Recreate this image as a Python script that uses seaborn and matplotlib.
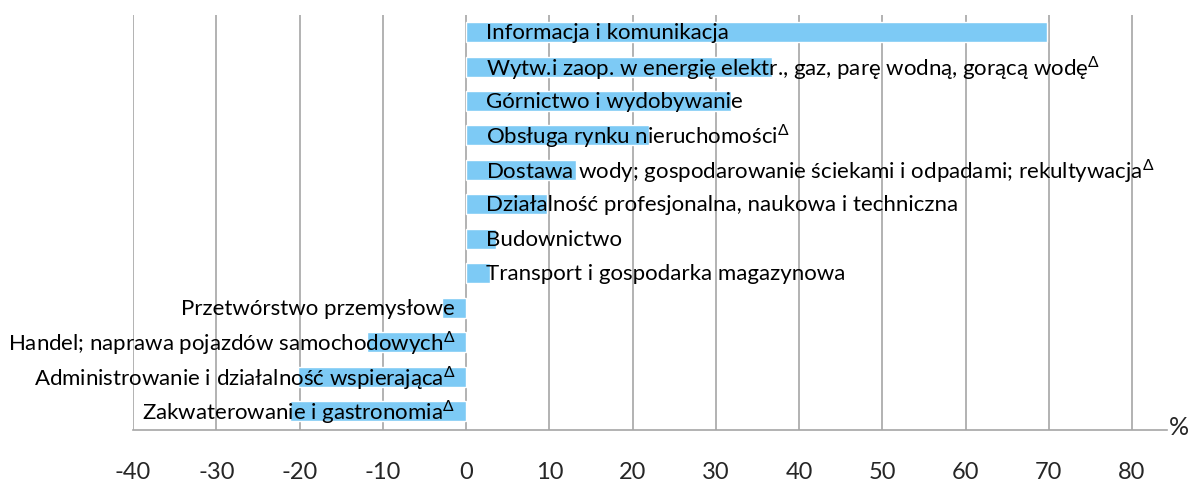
import pandas as pd
import matplotlib.pyplot as plt
import seaborn as sns

# Dane
sectors = [
    "Informacja i komunikacja",
    "Wytw.i zaop. w energię elektr., gaz, parę wodną, gorącą wodę",
    "Górnictwo i wydobywanie",
    "Obsługa rynku nieruchomości",
    "Dostawa wody; gospodarowanie ściekami i odpadami; rekultywacja",
    "Działalność profesjonalna, naukowa i techniczna",
    "Budownictwo",
    "Transport i gospodarka magazynowa",
    "Przetwórstwo przemysłowe",
    "Handel; naprawa pojazdów samochodowych",
    "Administrowanie i działalność wspierająca",
    "Zakwaterowanie i gastronomia",
]
values = [69.8, 36.7, 31.8, 22.0, 13.2, 9.7, 3.6, 2.9, -2.9, -11.9, -20.2, -21.2]
delta = [False, True, False, True, True, False, False, False, False, True, True, True]
xticks = [-40, -30, -20, -10, 0, 10, 20, 30, 40, 50, 60, 70, 80]

df = pd.DataFrame({"sector": sectors, "value": values})

sns.set_style("white")
plt.rcParams["font.family"] = ["Lato", "DejaVu Sans"]
plt.rcParams["mathtext.fontset"] = "custom"
plt.rcParams["mathtext.rm"] = "Lato"

fig = plt.figure(figsize=(11.94, 4.82), dpi=100)
ax = fig.add_axes([0.1114, 0.108, 0.866, 0.861])

sns.barplot(data=df, x="value", y="sector", orient="h", color="#7DCAF5",
            saturation=1, width=0.58, ax=ax)

# Etykiety przy słupkach
for i, (name, v, d) in enumerate(zip(sectors, values, delta)):
    label = name + (r"$^{\Delta}$" if d else "")
    if v >= 0:
        ax.text(2.4, i + 0.03, label, ha="left", va="center", fontsize=16, color="black")
    else:
        ax.text(-1.3, i + 0.03, label, ha="right", va="center", fontsize=16, color="black")

ax.set_xlim(-40, 84.2)
ax.set_ylim(11.55, -0.5)
ax.set_xticks(xticks)
ax.set_xticklabels([str(t) for t in xticks], fontsize=17)
ax.set_yticks([])
ax.set_xlabel("")
ax.set_ylabel("")
ax.grid(axis="x", color="#a6a6a6", linewidth=1.2)
ax.set_axisbelow(True)
for s in ["top", "right", "left"]:
    ax.spines[s].set_visible(False)
ax.spines["bottom"].set_color("#a6a6a6")
ax.spines["bottom"].set_linewidth(1.2)
ax.tick_params(axis="x", direction="out", length=5, width=1.2, color="#a6a6a6", pad=18)

fig.text(0.996, 0.114, "%", ha="right", va="center", fontsize=18)

plt.savefig("out.png", dpi=100)
